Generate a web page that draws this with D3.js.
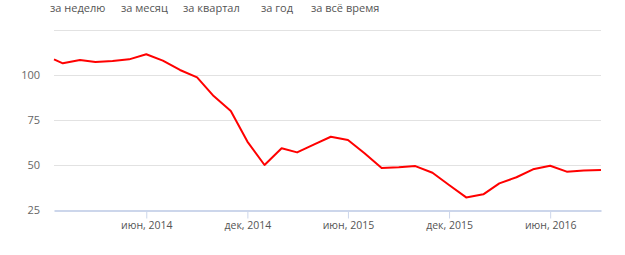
<!DOCTYPE html>
<html>
<head>
<meta charset="utf-8">
<script src="https://cdn.jsdelivr.net/npm/d3@7"></script>
<style>
  body { margin: 0; background: #fff; }
  svg { display: block; }
</style>
</head>
<body>
<div id="chart"></div>
<script>
// data
var periods = ["за неделю", "за месяц", "за квартал", "за год", "за всё время"];
var dates = ["2013-12-16",
  "2014-01-01","2014-02-01","2014-03-01","2014-04-01","2014-05-01","2014-06-01",
  "2014-07-01","2014-08-01","2014-09-01","2014-10-01","2014-11-01","2014-12-01",
  "2015-01-01","2015-02-01","2015-03-01","2015-04-01","2015-05-01","2015-06-01",
  "2015-07-01","2015-08-01","2015-09-01","2015-10-01","2015-11-01","2015-12-01",
  "2016-01-01","2016-02-01","2016-03-01","2016-04-01","2016-05-01","2016-06-01",
  "2016-07-01","2016-08-01","2016-09-01"];
var values = [108.7,
  106.5, 108.3, 107.2, 107.8, 108.7, 111.5,
  108.0, 102.8, 98.7, 88.3, 80.0, 63.0,
  50.0, 59.3, 57.0, 61.5, 65.7, 63.9,
  56.5, 48.3, 48.7, 49.4, 45.7, 38.9,
  32.0, 33.7, 39.8, 43.2, 47.6, 49.6,
  46.3, 46.9, 47.2];
var yTicks = [25, 50, 75, 100, 125];
var xTicks = ["2014-06-01", "2014-12-01", "2015-06-01", "2015-12-01", "2016-06-01"];
var monthNames = ["янв","фев","мар","апр","май","июн","июл","авг","сен","окт","ноя","дек"];

var parse = d3.timeParse("%Y-%m-%d");
var data = dates.map(function(d, i) { return {date: parse(d), value: values[i]}; });

var width = 625, height = 255;
var margin = {top: 30, right: 24, bottom: 45, left: 54};

var svg = d3.select("#chart")
    .append("svg")
    .attr("width", width)
    .attr("height", height);

// period buttons
var btnX = [50, 121, 183, 261, 311];
svg.selectAll(".btn")
    .data(periods)
    .enter()
    .append("text")
    .attr("x", function(d, i) { return btnX[i]; })
    .attr("y", 12)
    .attr("font-family", "Open Sans, sans-serif")
    .attr("font-size", 11)
    .attr("fill", "#555")
    .text(function(d) { return d; });

var x = d3.scaleTime()
    .domain([parse(dates[0]), parse(dates[dates.length - 1])])
    .range([margin.left, width - margin.right]);

var y = d3.scaleLinear()
    .domain([25, 125])
    .range([height - margin.bottom, margin.top]);

// grid lines
svg.selectAll(".grid")
    .data(yTicks.slice(1))
    .enter()
    .append("line")
    .attr("x1", margin.left)
    .attr("x2", width - margin.right)
    .attr("y1", function(d) { return Math.round(y(d)) + 0.5; })
    .attr("y2", function(d) { return Math.round(y(d)) + 0.5; })
    .attr("stroke", "#e2e2e2")
    .attr("stroke-width", 1);

// y labels
svg.selectAll(".ylab")
    .data(yTicks.slice(0, 4))
    .enter()
    .append("text")
    .attr("x", 40)
    .attr("y", function(d) { return y(d) + 4; })
    .attr("text-anchor", "end")
    .attr("font-family", "Open Sans, sans-serif")
    .attr("font-size", 11)
    .attr("fill", "#666")
    .text(function(d) { return d; });

// x axis
var xAxis = svg.append("g")
    .attr("transform", "translate(0," + (Math.round(y(25)) + 0.5) + ")")
    .call(d3.axisBottom(x)
        .tickValues(xTicks.map(parse))
        .tickSize(8)
        .tickSizeOuter(0)
        .tickPadding(3)
        .tickFormat(function(d) { return monthNames[d.getMonth()] + ", " + d.getFullYear(); }));
xAxis.select(".domain").attr("stroke", "#ccd6eb").attr("stroke-width", 2);
xAxis.selectAll(".tick line").attr("stroke", "#ccd6eb");
xAxis.selectAll(".tick text")
    .attr("font-family", "Open Sans, sans-serif")
    .attr("font-size", 10.5)
    .attr("fill", "#555");

// line
var line = d3.line()
    .x(function(d) { return x(d.date); })
    .y(function(d) { return y(d.value); });

svg.append("path")
    .datum(data)
    .attr("fill", "none")
    .attr("stroke", "#ff0000")
    .attr("stroke-width", 2)
    .attr("stroke-linejoin", "round")
    .attr("d", line);
</script>
</body>
</html>
